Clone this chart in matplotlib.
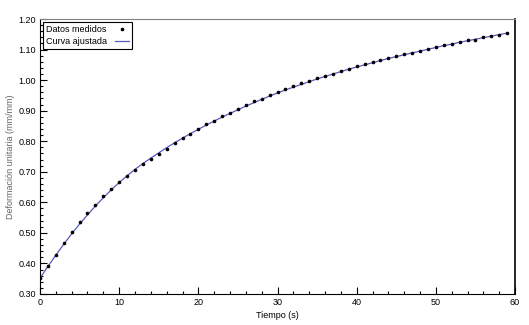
import matplotlib.pyplot as plt
from matplotlib.ticker import MultipleLocator, FormatStrFormatter

plt.rcParams['font.family'] = ['Liberation Sans', 'DejaVu Sans']

# tiempo (s)
tiempo = list(range(60))

# datos medidos (mm/mm)
medidos = [0.351, 0.391, 0.427, 0.466, 0.503, 0.536, 0.565, 0.592, 0.620, 0.643,
           0.668, 0.687, 0.705, 0.726, 0.742, 0.757, 0.776, 0.793, 0.810, 0.824,
           0.839, 0.855, 0.867, 0.882, 0.893, 0.906, 0.918, 0.931, 0.939, 0.950,
           0.962, 0.971, 0.981, 0.990, 0.997, 1.006, 1.013, 1.021, 1.029, 1.037,
           1.045, 1.052, 1.059, 1.065, 1.072, 1.079, 1.084, 1.090, 1.096, 1.103,
           1.108, 1.114, 1.118, 1.125, 1.130, 1.133, 1.141, 1.144, 1.149, 1.153]

# curva ajustada
ajustada = [0.352, 0.390, 0.427, 0.463, 0.497, 0.529, 0.559, 0.588, 0.615, 0.641,
            0.665, 0.687, 0.708, 0.727, 0.745, 0.762, 0.779, 0.795, 0.810, 0.825,
            0.839, 0.853, 0.866, 0.879, 0.891, 0.903, 0.915, 0.926, 0.937, 0.948,
            0.958, 0.968, 0.977, 0.986, 0.995, 1.004, 1.012, 1.020, 1.028, 1.036,
            1.043, 1.050, 1.057, 1.064, 1.071, 1.077, 1.083, 1.089, 1.095, 1.101,
            1.107, 1.113, 1.118, 1.124, 1.129, 1.134, 1.139, 1.144, 1.149, 1.154]

fig = plt.figure(figsize=(5.29, 3.25), dpi=100)
ax = fig.add_axes([0.0756, 0.0954, 0.898, 0.846])

ax.plot(tiempo, medidos, 'o', color='black', markersize=1.6, label='Datos medidos', zorder=3)
ax.plot(tiempo, ajustada, '-', color='#5a5ac0', lw=0.9, label='Curva ajustada', zorder=2)

ax.set_xlim(0, 60)
ax.set_ylim(0.30, 1.20)
ax.xaxis.set_major_locator(MultipleLocator(10))
ax.xaxis.set_minor_locator(MultipleLocator(2))
ax.yaxis.set_major_locator(MultipleLocator(0.1))
ax.yaxis.set_minor_locator(MultipleLocator(0.02))
ax.yaxis.set_major_formatter(FormatStrFormatter('%.2f'))
ax.tick_params(which='both', direction='in', labelsize=6.5, pad=3, width=0.8)
ax.tick_params(which='major', length=5)
ax.tick_params(which='minor', length=2.5)

ax.spines['top'].set_color('#808080')
for s in ['left', 'bottom', 'right']:
    ax.spines[s].set_color('black')
ax.spines['right'].set_linewidth(1.2)

ax.set_xlabel('Tiempo (s)', fontsize=6.5, labelpad=3)
ax.set_ylabel('Deformación unitaria (mm/mm)', fontsize=6.5, color='#666666', labelpad=2)

leg = ax.legend(loc='upper left', fontsize=6.5, markerfirst=False, fancybox=False,
                framealpha=1, edgecolor='black', borderpad=0.35, handlelength=1.5,
                labelspacing=0.35, borderaxespad=0.3, handletextpad=0.9)
leg.get_frame().set_linewidth(0.8)

fig.savefig('out.png', dpi=100)
